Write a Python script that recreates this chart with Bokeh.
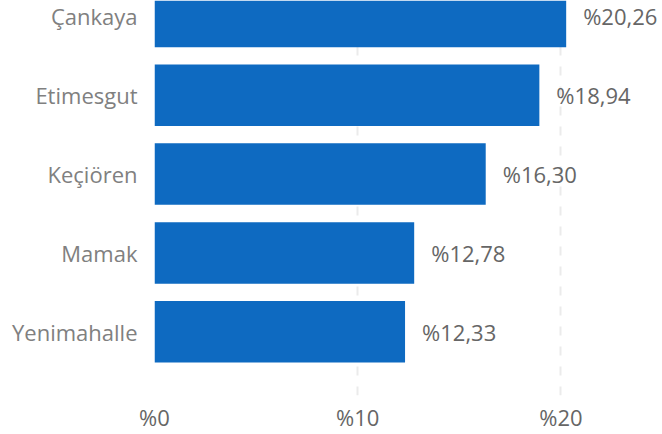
from bokeh.plotting import figure
from bokeh.models import Range1d, FixedTicker, ColumnDataSource
from bokeh.core.properties import value
from bokeh.embed import file_html
from bokeh.resources import INLINE

districts = ["Çankaya", "Etimesgut", "Keçiören", "Mamak", "Yenimahalle"]
shares = [20.26, 18.94, 16.30, 12.78, 12.33]
x_ticks = [0, 10, 20]
x_tick_labels = ["%0", "%10", "%20"]

BAR = "#0E6AC1"
FONT = "Open Sans"

pos = list(range(len(districts)))[::-1]
labels = ["%" + f"{v:.2f}".replace(".", ",") for v in shares]
source = ColumnDataSource(dict(district=districts, share=shares, y=pos, label=labels))

p = figure(width=662, height=434, title=None,
           x_range=Range1d(0, 25), y_range=Range1d(-0.808, 4.202),
           output_backend="svg", toolbar_location=None,
           min_border_left=154, min_border_right=0,
           min_border_top=0, min_border_bottom=37)

p.hbar(y="y", left=0, right="share", height=0.78, source=source,
       fill_color=BAR, line_color=None)
p.text(x="share", y="y", text="label", source=source, x_offset=17,
       text_align="left", text_baseline="middle",
       text_font=value(FONT), text_font_size="22px", text_color="#666666")

p.yaxis.ticker = FixedTicker(ticks=pos)
p.yaxis.major_label_overrides = {k: d for k, d in zip(pos, districts)}
p.xaxis.ticker = FixedTicker(ticks=x_ticks)
p.xaxis.major_label_overrides = {k: t for k, t in zip(x_ticks, x_tick_labels)}

for ax in (p.xaxis, p.yaxis):
    ax.axis_line_color = None
    ax.major_tick_line_color = None
    ax.minor_tick_line_color = None
    ax.major_tick_in = 0
    ax.major_tick_out = 0
    ax.minor_tick_in = 0
    ax.minor_tick_out = 0
    ax.major_label_text_font = FONT
    ax.major_label_text_font_size = "22px"

p.yaxis.major_label_text_color = "#808080"
p.yaxis.major_label_standoff = 17
p.xaxis.major_label_text_color = "#666666"
p.xaxis.major_label_standoff = 6

p.ygrid.visible = False
p.xgrid.grid_line_color = "#ebebeb"
p.xgrid.grid_line_width = 2
p.xgrid.grid_line_dash = "9 11"

p.outline_line_color = None
p.background_fill_color = "white"
p.border_fill_color = "white"

open("out.html", "w").write(file_html(p, INLINE))
